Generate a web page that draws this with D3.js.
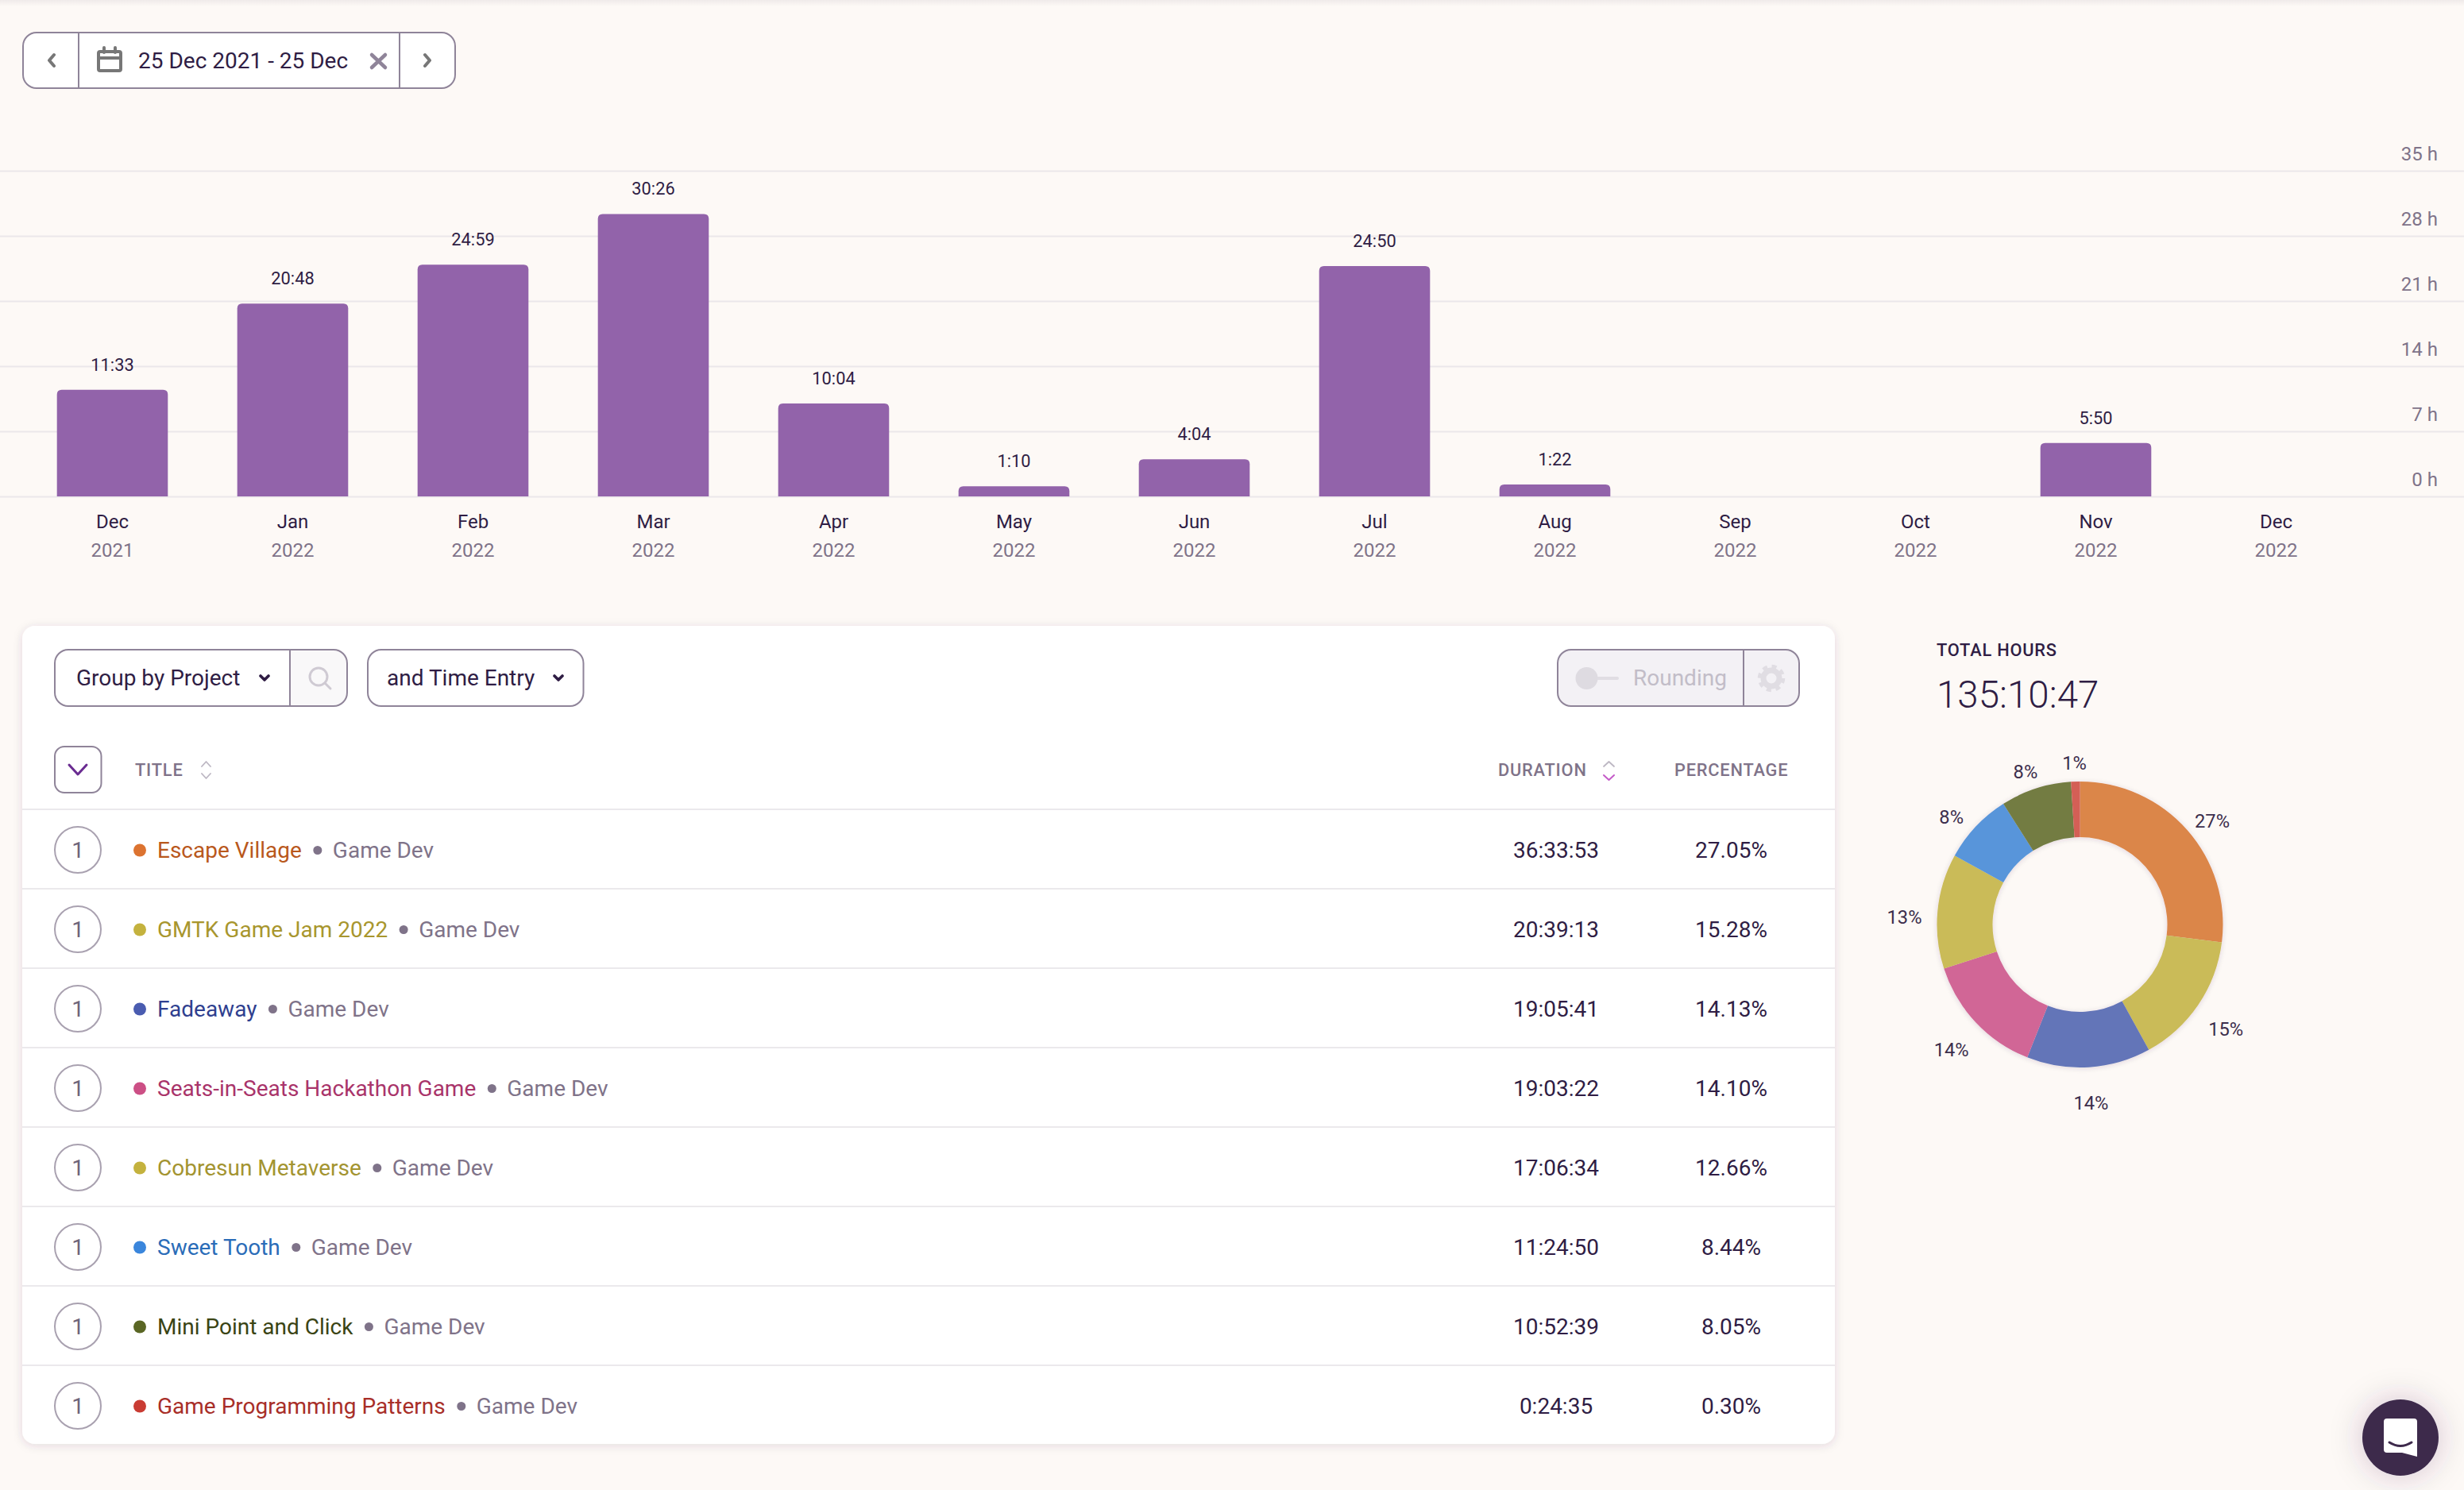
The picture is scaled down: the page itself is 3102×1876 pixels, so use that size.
<!DOCTYPE html>
<html lang="en">
<head>
  <meta charset="UTF-8">
  <title>Time report</title>
  <script src="https://d3js.org/d3.v7.min.js"></script>
  <style>
    html, body { margin: 0; padding: 0; background: #fdf9f6; overflow: hidden; }
    svg { display: block; }
    text { font-family: Roboto, sans-serif; }
    .dark { fill: #2f1d44; }
    .muted { fill: #7f7389; }
    .boxline { stroke: #8f8499; stroke-width: 2; }
    .grid line { stroke: #ebe7ea; stroke-width: 2; }
    .icon { fill: none; stroke-linecap: round; stroke-linejoin: round; }
    .head { font-size: 21.8px; font-weight: 500; letter-spacing: 0.8px; fill: #7f7389; }
    .rowtext { font-size: 28px; }
  </style>
</head>
<body>
  <svg width="3102" height="1876">
    <defs>
      <linearGradient id="topShade" x1="0" y1="0" x2="0" y2="1">
        <stop offset="0" stop-color="#3e2a4c" stop-opacity="0.07"/>
        <stop offset="1" stop-color="#3e2a4c" stop-opacity="0"/>
      </linearGradient>
      <filter id="cardShadow" x="-5%" y="-5%" width="110%" height="110%">
        <feDropShadow dx="0" dy="2" stdDeviation="6" flood-color="#3e2a4c" flood-opacity="0.14"/>
      </filter>
      <filter id="chatShadow" x="-100%" y="-100%" width="300%" height="300%">
        <feDropShadow dx="0" dy="0" stdDeviation="20" flood-color="#3e2a4c" flood-opacity="0.22"/>
      </filter>
      <filter id="donutShadow" x="-10%" y="-10%" width="120%" height="120%">
        <feDropShadow dx="0" dy="1" stdDeviation="3" flood-color="#3e2a4c" flood-opacity="0.16"/>
      </filter>
    </defs>
  </svg>

  <script>
    // bar chart
    let months = ["Dec", "Jan", "Feb", "Mar", "Apr", "May", "Jun", "Jul", "Aug", "Sep", "Oct", "Nov", "Dec"];
    let years = ["2021", "2022", "2022", "2022", "2022", "2022", "2022", "2022", "2022", "2022", "2022", "2022", "2022"];
    let barDurations = ["11:33", "20:48", "24:59", "30:26", "10:04", "1:10", "4:04", "24:50", "1:22", "", "", "5:50", ""];
    let hourTicks = [0, 7, 14, 21, 28, 35];

    // table
    let projectNames = ["Escape Village", "GMTK Game Jam 2022", "Fadeaway", "Seats-in-Seats Hackathon Game",
      "Cobresun Metaverse", "Sweet Tooth", "Mini Point and Click", "Game Programming Patterns"];
    let projectDurations = ["36:33:53", "20:39:13", "19:05:41", "19:03:22", "17:06:34", "11:24:50", "10:52:39", "0:24:35"];
    let projectPercents = ["27.05%", "15.28%", "14.13%", "14.10%", "12.66%", "8.44%", "8.05%", "0.30%"];
    let clientName = "Game Dev";
    let entryCounts = [1, 1, 1, 1, 1, 1, 1, 1];
    let nameColors = ["#b9581c", "#a8962e", "#2f3f8f", "#a9346a", "#a39430", "#2a6cb8", "#3a4414", "#a82e28"];
    let dotColors = ["#dc7330", "#c4b23e", "#4a5cb0", "#cc4f85", "#c4b23e", "#3a86dc", "#5a6624", "#c93c33"];

    // donut
    let totalHours = "135:10:47";
    let donutValues = [27, 15, 14, 14, 13, 8, 8, 1];
    let donutColors = ["#db864a", "#cabb59", "#6474b8", "#d16696", "#cabb59", "#5895da", "#737c43", "#d45f57"];

    let svg = d3.select("svg");

    function toHours(label) {
      if (label === "") return 0;
      let parts = label.split(":");
      return +parts[0] + parts[1] / 60;
    }

    // ---- page top shade
    svg.append("rect").attr("width", 3102).attr("height", 8).attr("fill", "url(#topShade)");

    // ---- date picker
    let picker = svg.append("g");
    picker.append("rect").attr("x", 29).attr("y", 41).attr("width", 544).attr("height", 70).attr("rx", 17)
      .attr("fill", "#fff").attr("class", "boxline");
    [99, 503].forEach(function (px) {
      picker.append("line").attr("x1", px).attr("x2", px).attr("y1", 41).attr("y2", 111).attr("class", "boxline");
    });
    picker.append("path").attr("class", "icon").attr("stroke", "#777")
      .attr("stroke-width", 4).attr("d", "M68 69l-6 7 6 7M535 69l6 7-6 7");
    picker.append("path").attr("class", "icon").attr("stroke", "#777").attr("stroke-width", 4)
      .attr("d", "M126 65h24a2 2 0 0 1 2 2v20a2 2 0 0 1-2 2h-24a2 2 0 0 1-2-2v-20a2 2 0 0 1 2-2zM124 73h28M131 60v6M145 60v6");
    picker.append("text").attr("class", "dark").attr("x", 174).attr("y", 86)
      .style("font-size", "28px").text("25 Dec 2021 - 25 Dec");
    picker.append("path").attr("class", "icon").attr("stroke", "#8f8499").attr("stroke-width", 4.5)
      .attr("d", "M468 69l17 16M485 69l-17 16");

    // ---- bar chart
    let x = d3.scaleBand()
      .domain(d3.range(months.length))
      .range([28, 2979])
      .paddingInner(0.385)
      .paddingOuter(0.1925);

    let y = d3.scaleLinear()
      .domain([0, 35])
      .range([625, 215]);

    let yAxis = svg.append("g")
      .attr("class", "grid")
      .attr("transform", "translate(3102,0)")
      .call(d3.axisLeft(y).tickValues(hourTicks).tickSize(3102).tickFormat(function (d) { return d + " h"; }));
    yAxis.select(".domain").remove();
    yAxis.selectAll("text")
      .attr("x", -33)
      .attr("y", -14)
      .attr("dy", 0)
      .attr("text-anchor", "end")
      .attr("class", "muted")
      .style("font-size", "24px")
      .style("font-family", "Roboto, sans-serif");

    // the bars sit about a pixel under the gridline scale in the screenshot
    function barTop(label) {
      return y(toHours(label)) + 1;
    }

    svg.append("g").selectAll("path")
      .data(d3.range(barDurations.length).filter(function (i) { return barDurations[i] !== ""; }))
      .join("path")
      .attr("fill", "#9263aa")
      .attr("d", function (i) {
        let left = x(i), right = left + x.bandwidth();
        let top = barTop(barDurations[i]), bottom = y(0), r = 6;
        let p = d3.path();
        p.moveTo(left, bottom);
        p.lineTo(left, top + r);
        p.quadraticCurveTo(left, top, left + r, top);
        p.lineTo(right - r, top);
        p.quadraticCurveTo(right, top, right, top + r);
        p.lineTo(right, bottom);
        p.closePath();
        return p.toString();
      });

    svg.append("g").selectAll("text")
      .data(barDurations)
      .join("text")
      .attr("class", "dark")
      .attr("x", function (d, i) { return x(i) + x.bandwidth() / 2; })
      .attr("y", function (d) { return barTop(d) - 24; })
      .attr("text-anchor", "middle")
      .style("font-size", "21.8px")
      .text(function (d) { return d; });

    let xAxis = svg.append("g")
      .attr("transform", "translate(0," + y(0) + ")")
      .call(d3.axisBottom(x).tickSize(0).tickFormat(function (d) { return months[d]; }));
    xAxis.select(".domain").remove();
    xAxis.selectAll("text")
      .attr("y", 39.5)
      .attr("dy", 0)
      .attr("class", "dark")
      .style("font-size", "24px")
      .style("font-family", "Roboto, sans-serif");
    xAxis.selectAll(".tick").append("text")
      .attr("y", 75.5)
      .attr("text-anchor", "middle")
      .attr("class", "muted")
      .style("font-size", "24px")
      .text(function (d) { return years[d]; });

    // ---- table card
    svg.append("rect").attr("x", 28).attr("y", 788).attr("width", 2282).attr("height", 1030).attr("rx", 16)
      .attr("fill", "#fff").attr("filter", "url(#cardShadow)");

    // group by control
    let control = svg.append("g");
    control.append("rect").attr("x", 69).attr("y", 818).attr("width", 368).attr("height", 71).attr("rx", 17)
      .attr("fill", "#fff");
    control.append("path").attr("fill", "#f9f8f9")
      .attr("d", "M366 819h54a16 16 0 0 1 16 16v37a16 16 0 0 1-16 16h-54z");
    control.append("rect").attr("x", 69).attr("y", 818).attr("width", 368).attr("height", 71).attr("rx", 17)
      .attr("fill", "none").attr("class", "boxline");
    control.append("line").attr("x1", 365).attr("x2", 365).attr("y1", 818).attr("y2", 889).attr("class", "boxline");
    control.append("rect").attr("x", 463).attr("y", 818).attr("width", 271.5).attr("height", 71).attr("rx", 17)
      .attr("fill", "#fff").attr("class", "boxline");
    control.append("text").attr("class", "dark").attr("x", 96).attr("y", 863)
      .style("font-size", "28px").text("Group by Project");
    control.append("text").attr("class", "dark").attr("x", 487).attr("y", 863)
      .style("font-size", "28px").text("and Time Entry");
    control.append("path").attr("class", "icon").attr("stroke", "#2f1d44").attr("stroke-width", 3.6)
      .attr("d", "M328 851l5 5 5-5M698 851l5 5 5-5");
    control.append("circle").attr("class", "icon").attr("cx", 401).attr("cy", 852).attr("r", 11)
      .attr("stroke", "#cfcad3").attr("stroke-width", 3);
    control.append("path").attr("class", "icon").attr("stroke", "#cfcad3").attr("stroke-width", 3)
      .attr("d", "M409 860l7 7");

    // rounding control
    let rounding = svg.append("g");
    rounding.append("rect").attr("x", 1961).attr("y", 818).attr("width", 304).attr("height", 71).attr("rx", 17)
      .attr("fill", "#f3f1f5").attr("class", "boxline");
    rounding.append("line").attr("x1", 2195).attr("x2", 2195).attr("y1", 818).attr("y2", 889).attr("class", "boxline");
    rounding.append("line").attr("x1", 2005).attr("x2", 2036).attr("y1", 854).attr("y2", 854)
      .attr("stroke", "#e0dde3").attr("stroke-width", 4).attr("stroke-linecap", "round");
    rounding.append("circle").attr("cx", 1997.5).attr("cy", 854).attr("r", 14).attr("fill", "#dedbe1");
    rounding.append("text").attr("x", 2056).attr("y", 863).attr("fill", "#c2bdc8")
      .style("font-size", "28px").text("Rounding");
    rounding.append("circle").attr("cx", 2230).attr("cy", 854).attr("r", 10).attr("fill", "none")
      .attr("stroke", "#e0dde3").attr("stroke-width", 7);
    rounding.append("circle").attr("cx", 2230).attr("cy", 854).attr("r", 15).attr("fill", "none")
      .attr("stroke", "#e0dde3").attr("stroke-width", 4.5).attr("stroke-dasharray", "6 5.8");

    // header row
    let header = svg.append("g");
    header.append("rect").attr("x", 69).attr("y", 940).attr("width", 58.5).attr("height", 58).attr("rx", 12)
      .attr("fill", "#fff").attr("class", "boxline");
    header.append("path").attr("class", "icon").attr("stroke", "#6a2c91").attr("stroke-width", 3)
      .attr("d", "M87 963l11 12 11-12");
    header.append("text").attr("class", "head").attr("x", 170).attr("y", 977).text("TITLE");
    header.append("path").attr("class", "icon").attr("stroke", "#bdb7c3").attr("stroke-width", 1.8)
      .attr("d", "M254 965l5.5-6 5.5 6M254 974l5.5 6 5.5-6");
    header.append("text").attr("class", "head").attr("x", 1886).attr("y", 977).text("DURATION");
    header.append("path").attr("class", "icon").attr("stroke", "#bdb7c3").attr("stroke-width", 1.8)
      .attr("d", "M2019 965l6.5-6 6.5 6");
    header.append("path").attr("class", "icon").attr("stroke", "#c45bc8").attr("stroke-width", 2)
      .attr("d", "M2019 976l6.5 6 6.5-6");
    header.append("text").attr("class", "head").attr("x", 2108).attr("y", 977).text("PERCENTAGE");

    // rows
    let rowY = d3.scaleBand()
      .domain(d3.range(projectNames.length))
      .range([1020, 1820]);

    let rows = svg.append("g").selectAll("g")
      .data(projectNames)
      .join("g")
      .attr("transform", function (d, i) { return "translate(0," + rowY(i) + ")"; });

    rows.append("line")
      .attr("x1", 28).attr("x2", 2310)
      .attr("y1", -1).attr("y2", -1)
      .attr("stroke", "#ebe9ec").attr("stroke-width", 2);

    rows.append("circle")
      .attr("cx", 98).attr("cy", 50).attr("r", 29)
      .attr("fill", "#fff").attr("stroke", "#a9a1b0").attr("stroke-width", 2);
    rows.append("text")
      .attr("class", "rowtext")
      .attr("x", 98).attr("y", 60)
      .attr("text-anchor", "middle")
      .attr("fill", "#6f6479")
      .text(function (d, i) { return entryCounts[i]; });

    rows.append("circle")
      .attr("cx", 176).attr("cy", 50.5).attr("r", 8)
      .attr("fill", function (d, i) { return dotColors[i]; });
    rows.append("text")
      .attr("class", "rowtext project")
      .attr("x", 198).attr("y", 60)
      .attr("fill", function (d, i) { return nameColors[i]; })
      .text(function (d) { return d; });

    // separator dot and client sit after the project name, so measure it
    rows.each(function () {
      let row = d3.select(this);
      let end = 198 + row.select(".project").node().getComputedTextLength();
      row.append("circle").attr("cx", end + 20).attr("cy", 50.5).attr("r", 5.5).attr("fill", "#7f7389");
      row.append("text").attr("class", "rowtext muted").attr("x", end + 39).attr("y", 60).text(clientName);
    });

    rows.append("text")
      .attr("class", "rowtext dark")
      .attr("x", 1959).attr("y", 60)
      .attr("text-anchor", "middle")
      .text(function (d, i) { return projectDurations[i]; });
    rows.append("text")
      .attr("class", "rowtext dark")
      .attr("x", 2179.5).attr("y", 60)
      .attr("text-anchor", "middle")
      .text(function (d, i) { return projectPercents[i]; });

    // ---- totals and donut
    svg.append("text").attr("class", "dark").attr("x", 2438).attr("y", 826)
      .style("font-size", "21.8px").style("font-weight", 500).style("letter-spacing", "0.8px")
      .text("TOTAL HOURS");
    svg.append("text").attr("class", "dark").attr("x", 2438).attr("y", 891)
      .style("font-size", "47.5px").style("font-weight", 300)
      .text(totalHours);

    let pie = d3.pie().sort(null);
    let arc = d3.arc().innerRadius(110).outerRadius(180);
    let unitArc = d3.arc().innerRadius(1).outerRadius(1);

    svg.append("g")
      .attr("transform", "translate(2618.5,1164)")
      .attr("filter", "url(#donutShadow)")
      .selectAll("path")
      .data(pie(donutValues))
      .join("path")
      .attr("d", arc)
      .attr("fill", function (d, i) { return donutColors[i]; });

    // labels sit on a slightly wide ellipse, a bit under the donut centre
    svg.append("g")
      .attr("transform", "translate(2618.5,1175)")
      .selectAll("text")
      .data(pie(donutValues))
      .join("text")
      .attr("transform", function (d) {
        let c = unitArc.centroid(d);
        return "translate(" + c[0] * 222 + "," + c[1] * 214 + ")";
      })
      .attr("dy", "0.35em")
      .attr("text-anchor", "middle")
      .attr("fill", "#3c2e4c")
      .style("font-size", "23.7px")
      .text(function (d) { return d.value + "%"; });

    // ---- chat button
    let chat = svg.append("g").attr("transform", "translate(3022,1810)");
    chat.append("circle").attr("r", 48).attr("fill", "#3e2a4c").attr("filter", "url(#chatShadow)");
    chat.append("path").attr("fill", "#fff")
      .attr("d", "M-17 -24h34a4 4 0 0 1 4 4v44l-19 -5h-19a4 4 0 0 1 -4 -4v-35a4 4 0 0 1 4 -4z");
    chat.append("path").attr("fill", "none").attr("stroke", "#3e2a4c").attr("stroke-width", 3).attr("stroke-linecap", "round")
      .attr("d", "M-14 6q14 9 28 0");
  </script>
</body>
</html>
